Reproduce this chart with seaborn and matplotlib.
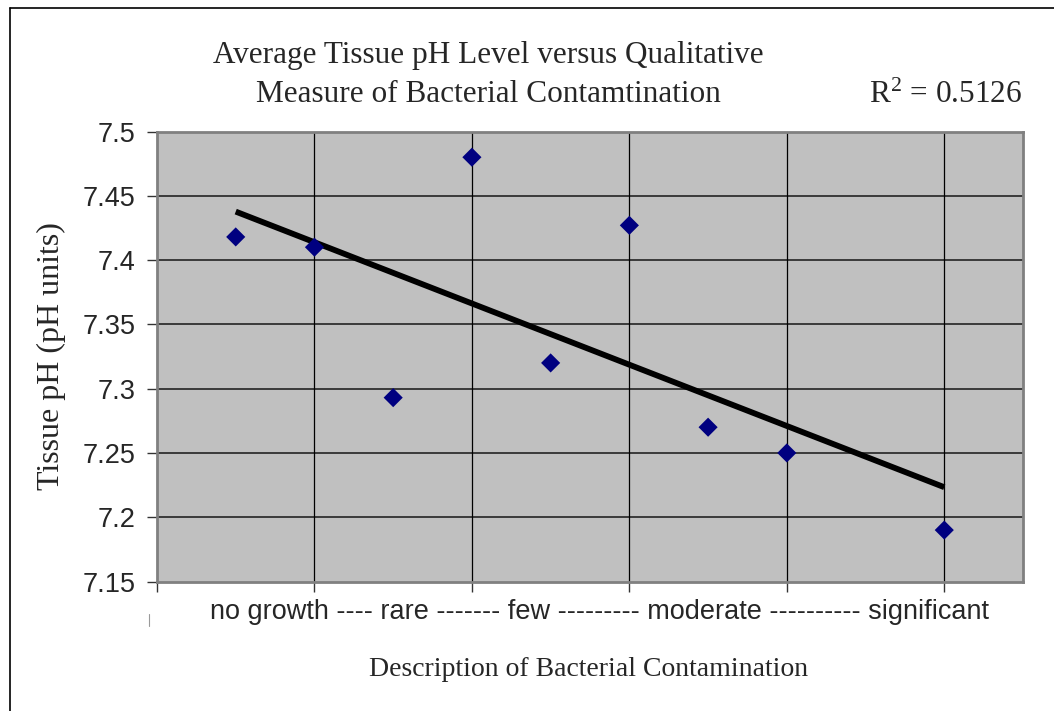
import numpy as np
import pandas as pd
import matplotlib
matplotlib.use("Agg")
import matplotlib.pyplot as plt
from matplotlib.lines import Line2D
import seaborn as sns

# Qualitative contamination level (numeric position) and mean tissue pH
contamination_level = [0.5, 1.0, 1.5, 2.0, 2.5, 3.0, 3.5, 4.0, 5.0]
tissue_ph = [7.418, 7.41, 7.293, 7.48, 7.32, 7.427, 7.27, 7.25, 7.19]
y_ticks = [7.15, 7.2, 7.25, 7.3, 7.35, 7.4, 7.45, 7.5]
y_tick_labels = ["7.15", "7.2", "7.25", "7.3", "7.35", "7.4", "7.45", "7.5"]
x_ticks = [0, 1, 2, 3, 4, 5]
category_line = "no growth ---- rare ------- few --------- moderate ---------- significant"
r_squared = 0.5126

df = pd.DataFrame({"level": contamination_level, "ph": tissue_ph})

sns.set_style("white", {"axes.facecolor": "#C0C0C0"})
plt.rcParams["font.family"] = ["Liberation Sans", "DejaVu Sans"]

W, H = 1054, 711
fig = plt.figure(figsize=(W / 100, H / 100), dpi=100)
fig.patch.set_facecolor("white")
ax = fig.add_axes([157 / W, 1 - 581.5 / H, (1023 - 157) / W, (581.5 - 131.5) / H])

# grid: dark grey horizontals, thin black verticals
ax.set_axisbelow(True)
for yv in y_ticks[1:-1]:
    ax.axhline(yv, color="#3a3a3a", lw=1.4, zorder=0.5)
for xv in x_ticks[1:]:
    ax.axvline(xv, color="black", lw=0.9, zorder=0.5)

# linear trend over the data range
sns.regplot(data=df, x="level", y="ph", ax=ax, ci=None, scatter=False,
            truncate=True, line_kws={"color": "black", "lw": 4.2, "zorder": 2,
                                     "solid_capstyle": "butt"})
sns.scatterplot(data=df, x="level", y="ph", ax=ax, marker="D", s=95,
                color="#000080", edgecolor="none", zorder=3)

ax.set_xlim(0, 5.5)
ax.set_ylim(7.15, 7.5)
ax.set_xticks(x_ticks)
ax.set_xticklabels([])
ax.set_yticks(y_ticks)
ax.set_yticklabels(y_tick_labels, fontsize=19.5, fontfamily="Liberation Sans")
ax.tick_params(axis="both", direction="out", length=7, width=1.0, color="#333333",
               pad=8.5, left=True, bottom=True)
ax.set_xlabel("")
ax.set_ylabel("")
for s in ax.spines.values():
    s.set_color("#808080")
    s.set_linewidth(2.0)
    s.set_visible(True)

serif = ["Liberation Serif", "DejaVu Serif"]
fig.text(488 / W, 1 - 55 / H, "Average Tissue pH Level versus Qualitative",
         ha="center", va="center", fontsize=22.5, family=serif)
fig.text(488 / W, 1 - 95 / H, "Measure of Bacterial Contamtination",
         ha="center", va="center", fontsize=22.5, family=serif)
plt.rcParams["mathtext.fontset"] = "custom"
plt.rcParams["mathtext.rm"] = "Liberation Serif"
fig.text(1022 / W, 1 - 95 / H, r"$\mathregular{R^2}$ = %.4f" % r_squared,
         ha="right", va="center", fontsize=22.5, family=serif)

fig.text(51 / W, 1 - 356 / H, "Tissue pH (pH units)", rotation=90,
         ha="center", va="center", fontsize=23, family=serif)
fig.text(599 / W, 1 - 612 / H, category_line, ha="center", va="center",
         fontsize=19.5, family=["Liberation Sans", "DejaVu Sans"])
fig.text(589 / W, 1 - 670 / H, "Description of Bacterial Contamination",
         ha="center", va="center", fontsize=20, family=serif)

# outer chart frame (left and top edges)
fig.add_artist(Line2D([10 / W, 10 / W], [0, 1 - 8 / H], color="black", lw=1.2))
fig.add_artist(Line2D([10 / W, 1], [1 - 8 / H, 1 - 8 / H], color="black", lw=1.2))
fig.add_artist(Line2D([149 / W, 149 / W], [1 - 614 / H, 1 - 626 / H],
                      color="#9a9a9a", lw=0.8))

fig.savefig("out.png", dpi=100)
